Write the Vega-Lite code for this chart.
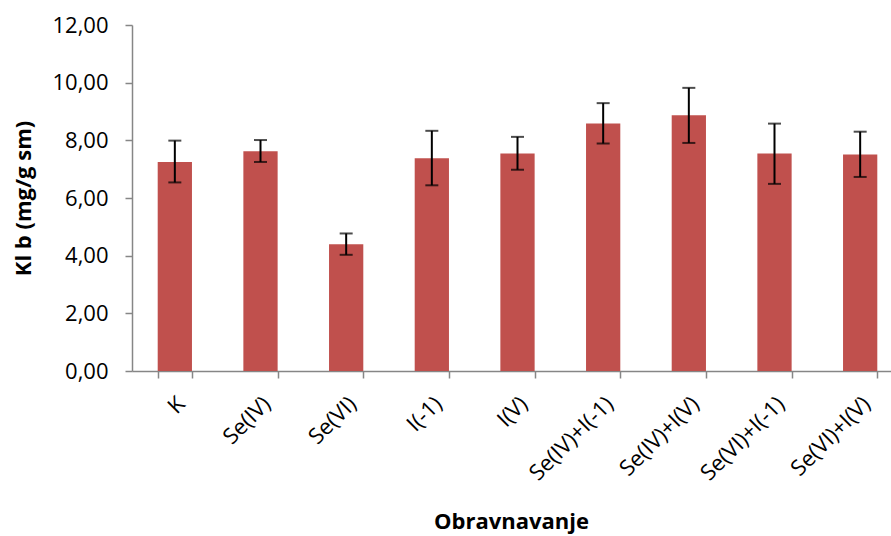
{
  "$schema": "https://vega.github.io/schema/vega-lite/v6.json",
  "autosize": "none",
  "width": 771,
  "height": 346,
  "padding": {"left": 132, "top": 25, "right": 0, "bottom": 165},
  "background": "white",
  "config": {
    "view": {"stroke": null},
    "font": "Open Sans",
    "axis": {
      "domainColor": "#868686",
      "domainWidth": 1.5,
      "tickColor": "#868686",
      "tickWidth": 1.5,
      "tickSize": 7,
      "grid": false,
      "labelColor": "#000000",
      "labelFont": "Open Sans",
      "labelFontSize": 22,
      "titleFont": "Open Sans",
      "titleColor": "#000000",
      "titleFontWeight": "bold"
    }
  },
  "data": {
    "values": [
      {"treatment": "K", "value": 7.25, "lo": 6.54, "hi": 7.99},
      {"treatment": "Se(IV)", "value": 7.62, "lo": 7.25, "hi": 8.01},
      {"treatment": "Se(VI)", "value": 4.40, "lo": 4.03, "hi": 4.77},
      {"treatment": "I(-1)", "value": 7.38, "lo": 6.44, "hi": 8.33},
      {"treatment": "I(V)", "value": 7.54, "lo": 6.98, "hi": 8.12},
      {"treatment": "Se(IV)+I(-1)", "value": 8.58, "lo": 7.89, "hi": 9.29},
      {"treatment": "Se(IV)+I(V)", "value": 8.87, "lo": 7.91, "hi": 9.82},
      {"treatment": "Se(VI)+I(-1)", "value": 7.54, "lo": 6.49, "hi": 8.58},
      {"treatment": "Se(VI)+I(V)", "value": 7.51, "lo": 6.73, "hi": 8.30}
    ]
  },
  "encoding": {
    "x": {
      "field": "treatment",
      "type": "nominal",
      "sort": null,
      "scale": {"paddingInner": 0.6, "paddingOuter": 0.3},
      "axis": {
        "title": "Obravnavanje",
        "titleFontSize": 22,
        "titleX": 379,
        "titleY": 150,
        "titleBaseline": "middle",
        "labelAngle": -45,
        "labelAlign": "right",
        "labelBaseline": "middle",
        "labelPadding": 22,
        "tickBand": "extent",
        "labelOffset": 6
      }
    }
  },
  "layer": [
    {
      "mark": {"type": "bar", "color": "#C0504D"},
      "encoding": {
        "y": {
          "field": "value",
          "type": "quantitative",
          "scale": {"domain": [0, 12], "nice": false},
          "axis": {
            "title": "Kl b (mg/g sm)",
            "titleFontSize": 22,
            "titleX": -109,
            "titleY": 173,
            "titleBaseline": "middle",
            "titleAlign": "center",
            "values": [0, 2, 4, 6, 8, 10, 12],
            "labelExpr": "replace(format(datum.value, '.2f'), '.', ',')",
            "labelPadding": 17
          }
        }
      }
    },
    {
      "mark": {"type": "rule", "color": "#000000", "strokeWidth": 2},
      "encoding": {
        "y": {"field": "lo", "type": "quantitative"},
        "y2": {"field": "hi"}
      }
    },
    {
      "mark": {"type": "tick", "color": "#000000", "thickness": 2, "size": 13, "orient": "horizontal"},
      "encoding": {"y": {"field": "lo", "type": "quantitative"}}
    },
    {
      "mark": {"type": "tick", "color": "#000000", "thickness": 2, "size": 13, "orient": "horizontal"},
      "encoding": {"y": {"field": "hi", "type": "quantitative"}}
    }
  ]
}
